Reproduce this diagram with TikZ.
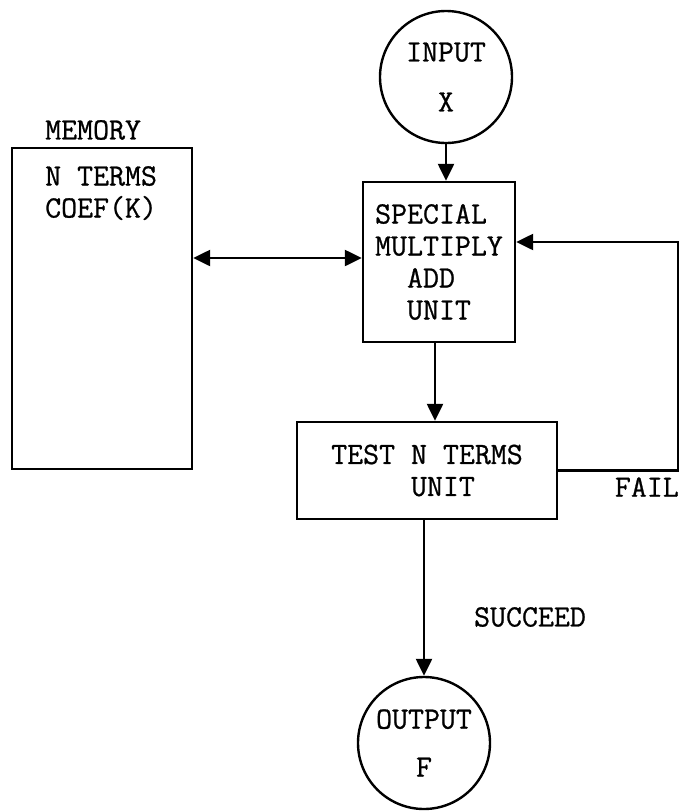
\documentclass[tikz,border=0pt]{standalone}
\usepackage{fontspec}
\newfontfamily\diagfont{Latin Modern Mono}[FakeBold=0.8]
\usetikzlibrary{arrows.meta,calc}
\begin{document}
\begin{tikzpicture}[x=1pt,y=-1pt,
  every node/.style={font=\fontsize{31}{32}\selectfont\diagfont, inner sep=0pt},
  boxnode/.style={draw, line width=2.4pt, rectangle},
  roundnode/.style={draw, line width=2.4pt, circle, minimum size=132pt, align=center},
  conn/.style={line width=2.4pt},
  tip/.tip={Triangle[length=17pt,width=16pt]},
  arr/.style={conn, -tip},
  biarr/.style={conn, tip-tip}]
\useasboundingbox (0,0) rectangle (680,812);

\node[roundnode] (in) at (446,77) {INPUT\\[18pt]X};
\node[boxnode, minimum width=152pt, minimum height=160pt, align=left] (mul) at (439,262)
  {SPECIAL\\MULTIPLY\\\phantom{MU}ADD\\\phantom{MU}UNIT};
\node[boxnode, minimum width=180pt, minimum height=321pt] (mem) at (102,308.5) {};
\node[anchor=west] (memlbl) at (45,130) {MEMORY};
\node[anchor=north west, align=left] (memtxt) at (45,166) {N TERMS\\COEF(K)};
\node[boxnode, minimum width=260pt, minimum height=97pt, align=left] (test) at (427,470.5)
  {TEST N TERMS\\\phantom{TEST }UNIT};
\node[roundnode] (out) at (424,743) {OUTPUT\\[16pt]F};
\node (succ) at (530,617) {SUCCEED};
\node[anchor=east] (fail) at (679,487) {FAIL};

\draw[arr] (in.south) -- (in.south |- mul.north);
\draw[biarr] ([yshift=4pt]mul.west -| mem.east) -- ([yshift=4pt]mul.west);
\draw[arr] ([xshift=-4pt]mul.south) -- ([xshift=-4pt]mul.south |- test.north);
\draw[arr] (test.east) -- ++(120,0) |- ([yshift=20pt]mul.east);
\draw[arr] (out.north |- test.south) -- (out.north);
\end{tikzpicture}
\end{document}
